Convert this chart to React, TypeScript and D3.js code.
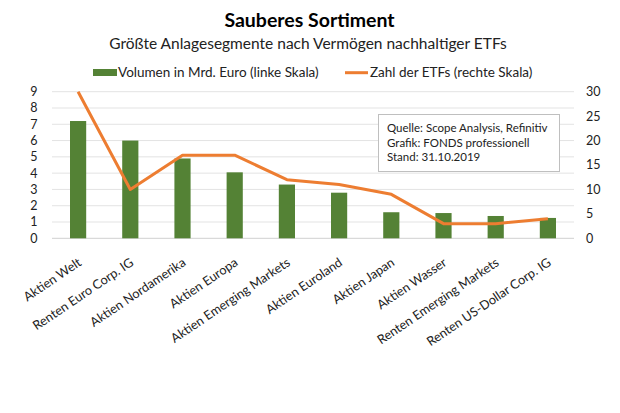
import * as d3 from "d3";
import { useRef, useEffect } from "react";

const categories = [
  "Aktien Welt",
  "Renten Euro Corp. IG",
  "Aktien Nordamerika",
  "Aktien Europa",
  "Aktien Emerging Markets",
  "Aktien Euroland",
  "Aktien Japan",
  "Aktien Wasser",
  "Renten Emerging Markets",
  "Renten US-Dollar Corp. IG",
];
const volumen = [7.2, 6.0, 4.9, 4.05, 3.3, 2.8, 1.6, 1.55, 1.37, 1.25];
const anzahl = [30, 10, 17, 17, 12, 11, 9, 3, 3, 4];
const leftTicks = [0, 1, 2, 3, 4, 5, 6, 7, 8, 9];
const rightTicks = [0, 5, 10, 15, 20, 25, 30];
const quelle = [
  "Quelle: Scope Analysis, Refinitiv",
  "Grafik: FONDS professionell",
  "Stand: 31.10.2019",
];

const GREEN = "#548235";
const ORANGE = "#ED7D31";
const FONT = "Lato, 'Open Sans', sans-serif";

export default function App() {
  const ref = useRef<SVGSVGElement | null>(null);
  const width = 620;
  const height = 413;
  const marginLeft = 52;
  const marginRight = 46;
  const top = 91.7;
  const bottom = 238.3;

  useEffect(() => {
    const svg = d3.select(ref.current);
    svg.selectAll("*").remove();

    const x = d3.scaleBand<string>()
      .domain(categories)
      .range([marginLeft, width - marginRight])
      .paddingInner(0.69)
      .paddingOuter(0.345);
    const yL = d3.scaleLinear().domain([0, 9]).range([bottom, top]);
    const yR = d3.scaleLinear().domain([0, 30]).range([bottom, top]);

    svg.append("rect").attr("width", width).attr("height", height).attr("fill", "#fff");

    // titles
    svg.append("text")
      .attr("x", 309.5).attr("y", 27)
      .attr("text-anchor", "middle")
      .style("font", `bold 19.5px ${FONT}`)
      .text("Sauberes Sortiment");
    svg.append("text")
      .attr("x", 308).attr("y", 48.5)
      .attr("text-anchor", "middle")
      .style("font", `15.5px ${FONT}`)
      .attr("fill", "#222")
      .text("Größte Anlagesegmente nach Vermögen nachhaltiger ETFs");

    // legend
    const lg = svg.append("g").style("font", `13.5px ${FONT}`).attr("fill", "#222");
    lg.append("rect").attr("x", 93).attr("y", 69).attr("width", 24).attr("height", 7).attr("fill", GREEN);
    lg.append("text").attr("x", 118).attr("y", 76.5).text("Volumen in Mrd. Euro (linke Skala)");
    lg.append("line").attr("x1", 345).attr("x2", 368).attr("y1", 72.7).attr("y2", 72.7)
      .attr("stroke", ORANGE).attr("stroke-width", 3);
    lg.append("text").attr("x", 370).attr("y", 76.5).text("Zahl der ETFs (rechte Skala)");

    // gridlines
    svg.append("g")
      .selectAll("line")
      .data(leftTicks)
      .join("line")
      .attr("x1", marginLeft).attr("x2", width - marginRight)
      .attr("y1", d => yL(d)).attr("y2", d => yL(d))
      .attr("stroke", d => d === 0 ? "#d0d0d0" : "#e3e3e3")
      .attr("stroke-width", 1);

    // left axis
    svg.append("g")
      .style("font", `12.5px ${FONT}`)
      .attr("fill", "#222")
      .selectAll("text")
      .data(leftTicks)
      .join("text")
      .attr("x", 37.5).attr("y", d => yL(d))
      .attr("dy", "0.35em")
      .attr("text-anchor", "end")
      .text(d => d);

    // right axis
    svg.append("g")
      .style("font", `12.5px ${FONT}`)
      .attr("fill", "#222")
      .selectAll("text")
      .data(rightTicks)
      .join("text")
      .attr("x", 586).attr("y", d => yR(d))
      .attr("dy", "0.35em")
      .text(d => d);

    // bars
    svg.append("g")
      .selectAll("rect")
      .data(volumen)
      .join("rect")
      .attr("x", (d, i) => x(categories[i])!)
      .attr("width", x.bandwidth())
      .attr("y", d => yL(d))
      .attr("height", d => yL(0) - yL(d))
      .attr("fill", GREEN);

    // line
    const line = d3.line<number>()
      .x((d, i) => x(categories[i])! + x.bandwidth() / 2)
      .y(d => yR(d));
    svg.append("path")
      .datum(anzahl)
      .attr("d", line)
      .attr("fill", "none")
      .attr("stroke", ORANGE)
      .attr("stroke-width", 3)
      .attr("stroke-linejoin", "round");

    // category labels
    svg.append("g")
      .style("font", `12.7px ${FONT}`)
      .attr("fill", "#222")
      .selectAll("text")
      .data(categories)
      .join("text")
      .attr("transform", d => `translate(${x(d)! + x.bandwidth() / 2 - 1},${257}) rotate(-34)`)
      .attr("text-anchor", "end")
      .attr("dy", "0.72em")
      .text(d => d);

    // source box
    const box = svg.append("g");
    box.append("rect")
      .attr("x", 378.5).attr("y", 114.5)
      .attr("width", 181).attr("height", 57)
      .attr("fill", "#fff")
      .attr("stroke", "#bfbfbf");
    box.append("g")
      .style("font", `11.5px ${FONT}`)
      .attr("fill", "#222")
      .selectAll("text")
      .data(quelle)
      .join("text")
      .attr("x", 387)
      .attr("y", (d, i) => 132 + i * 14.5)
      .text(d => d);
  }, []);

  return (
    <svg
      ref={ref}
      width={width}
      height={height}
      style={{ position: "absolute", left: 0, top: 0, display: "block" }}
    />
  );
}
